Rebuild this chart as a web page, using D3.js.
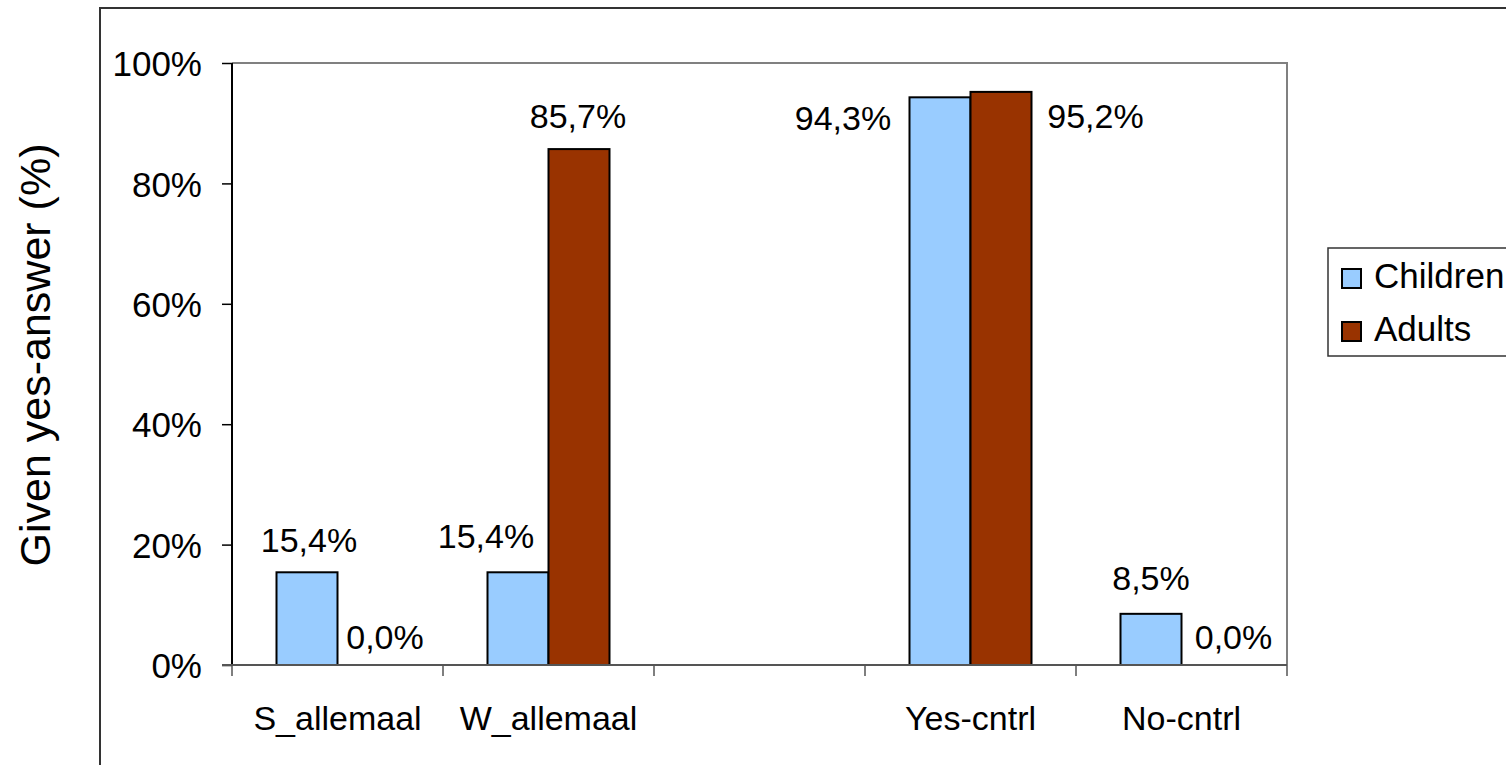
<!DOCTYPE html>
<html>
<head>
<meta charset="utf-8">
<script src="https://cdn.jsdelivr.net/npm/d3@7"></script>
<style>
  html, body { margin: 0; padding: 0; background: #fff; }
  svg { display: block; }
  text { font-family: "Liberation Sans", Arial, sans-serif; fill: #000; }
</style>
</head>
<body>
<svg id="chart" width="1506" height="765"></svg>
<script>
// ---- data ----
const categories = ["S_allemaal", "W_allemaal", "", "Yes-cntrl", "No-cntrl"];
const seriesNames = ["Children", "Adults"];
const childrenValues = [15.4, 15.4, null, 94.3, 8.5];
const adultsValues = [0.0, 85.7, null, 95.2, 0.0];
const yTicks = [0, 20, 40, 60, 80, 100];
const yTickLabels = ["0%", "20%", "40%", "60%", "80%", "100%"];
const yAxisTitle = "Given yes-answer (%)";

// ---- styling / label placement (not data) ----
const colors = ["#99CCFF", "#993300"];
// label offsets [dx, dy] from top-centre of each bar
const childLabelOffsets = [[2, -20], [-32, -24], null, [-97, 33], [0, -24]];
const adultLabelOffsets = [[17, -16], [-1, -21], null, [94.5, 36], [21.5, -16]];

const svg = d3.select("#chart");
const plot = { left: 232, top: 63, right: 1287, bottom: 665 };
const fontSize = 34;

// outer chart border
svg.append("rect")
  .attr("x", 100).attr("y", 8)
  .attr("width", 1500).attr("height", 800)
  .attr("fill", "#fff").attr("stroke", "#333").attr("stroke-width", 2);

const x0 = d3.scaleBand().domain(d3.range(categories.length))
  .range([plot.left, plot.right]).paddingInner(0).paddingOuter(0);
const groupWidth = 122 / 211;
const x1 = d3.scaleBand().domain([0, 1])
  .range([0, x0.bandwidth() * groupWidth]);
const y = d3.scaleLinear().domain([0, 100]).range([plot.bottom, plot.top]);

// plot frame (top & right gray)
svg.append("path")
  .attr("d", `M${plot.left},${plot.top}H${plot.right}V${plot.bottom}`)
  .attr("fill", "none").attr("stroke", "#808080").attr("stroke-width", 2);

const fmt = v => v.toFixed(1).replace(".", ",") + "%";

const series = [childrenValues, adultsValues];
const offsets = [childLabelOffsets, adultLabelOffsets];

series.forEach((vals, si) => {
  const data = vals.map((v, i) => ({ v, i })).filter(d => d.v !== null);
  svg.append("g").selectAll("rect").data(data).join("rect")
    .attr("x", d => x0(d.i) + (x0.bandwidth() * (1 - groupWidth)) / 2 + x1(si))
    .attr("y", d => y(d.v))
    .attr("width", x1.bandwidth())
    .attr("height", d => y(0) - y(d.v))
    .attr("fill", colors[si])
    .attr("stroke", d => d.v > 0 ? "#000" : "none")
    .attr("stroke-width", 2);

  svg.append("g").selectAll("text").data(data).join("text")
    .attr("x", d => x0(d.i) + (x0.bandwidth() * (1 - groupWidth)) / 2 + x1(si) + x1.bandwidth() / 2 + offsets[si][d.i][0])
    .attr("y", d => y(d.v) + offsets[si][d.i][1])
    .attr("text-anchor", "middle")
    .attr("font-size", fontSize)
    .text(d => fmt(d.v));
});

// y axis
const yAxis = d3.axisLeft(y).tickValues(yTicks)
  .tickFormat((d, i) => yTickLabels[i]).tickSize(10).tickPadding(20);
const gy = svg.append("g").attr("transform", `translate(${plot.left},0)`).call(yAxis);
gy.select(".domain").attr("stroke", "#000").attr("stroke-width", 2).attr("d", `M0,${plot.top}V${plot.bottom}`);
gy.selectAll(".tick line").attr("stroke", "#000").attr("stroke-width", 1.5);
gy.selectAll(".tick text").attr("font-size", 35).attr("font-family", "Liberation Sans, Arial, sans-serif").attr("dy", "0.36em");

// x axis: ticks at category boundaries
const xb = d3.scaleLinear().domain([0, categories.length]).range([plot.left, plot.right]);
const gx = svg.append("g").attr("transform", `translate(0,${plot.bottom})`);
gx.append("line").attr("x1", plot.left - 10).attr("x2", plot.right)
  .attr("stroke", "#555").attr("stroke-width", 2);
gx.selectAll(".btick").data(d3.range(categories.length + 1)).join("line")
  .attr("x1", d => xb(d)).attr("x2", d => xb(d))
  .attr("y1", 0).attr("y2", 11)
  .attr("stroke", "#555").attr("stroke-width", 1.5);
gx.selectAll(".clabel").data(categories).join("text")
  .attr("x", (d, i) => x0(i) + x0.bandwidth() / 2)
  .attr("y", 65)
  .attr("text-anchor", "middle")
  .attr("font-size", fontSize)
  .text(d => d);

// y axis title
svg.append("text")
  .attr("transform", `translate(50,355) rotate(-90)`)
  .attr("text-anchor", "middle")
  .attr("font-size", 43)
  .text(yAxisTitle);

// legend
const lg = svg.append("g");
lg.append("rect").attr("x", 1328).attr("y", 248).attr("width", 200).attr("height", 108)
  .attr("fill", "#fff").attr("stroke", "#333").attr("stroke-width", 1.5);
seriesNames.forEach((name, i) => {
  lg.append("rect").attr("x", 1342).attr("y", 269 + i * 53).attr("width", 19).attr("height", 19)
    .attr("fill", colors[i]).attr("stroke", "#000").attr("stroke-width", 2);
  lg.append("text").attr("x", 1374).attr("y", 288 + i * 53)
    .attr("font-size", 35).text(name);
});
</script>
</body>
</html>
